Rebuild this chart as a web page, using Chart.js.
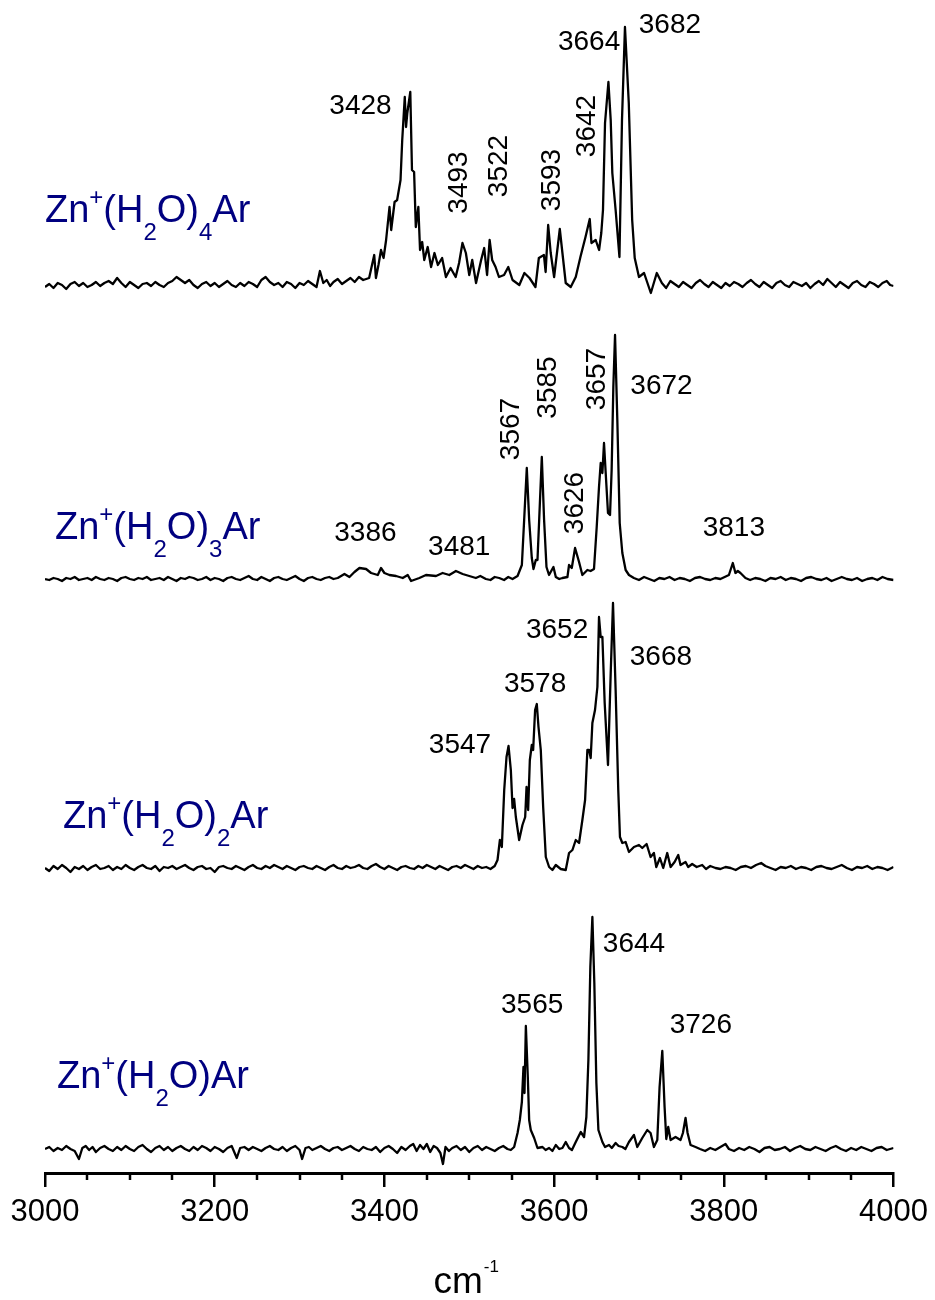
<!DOCTYPE html>
<html>
<head>
<meta charset="utf-8">
<script src="https://cdn.jsdelivr.net/npm/chart.js@4.4.1/dist/chart.umd.min.js"></script>
<style>
html,body{margin:0;padding:0;background:#fff;}
canvas{display:block;}
</style>
</head>
<body>
<canvas id="c" width="935" height="1300"></canvas>
<script>
// ---------- DATA (wavenumber cm^-1, intensity arb. units above each trace's baseline) ----------
const spectrumN4 = [
[3000,-2],[3005,1],[3010,-3],[3015,2],[3020,0],[3025,-4],[3030,1],[3035,3],[3040,-1],[3045,2],[3050,-2],[3055,0],[3060,3],[3065,-1],[3070,2],[3075,4],[3080,1],[3085,7],[3090,2],[3095,-2],[3100,3],[3105,0],[3110,-3],[3115,1],[3120,2],[3125,-1],[3130,3],[3135,0],[3140,-2],[3145,2],[3150,4],[3155,8],[3160,5],[3165,2],[3170,5],[3175,0],[3180,-3],[3185,1],[3190,3],[3195,-1],[3200,2],[3205,-2],[3210,1],[3215,4],[3220,0],[3225,-2],[3230,2],[3235,-1],[3240,3],[3245,1],[3250,-2],[3255,5],[3260,8],[3265,3],[3270,0],[3275,2],[3280,-2],[3285,3],[3290,1],[3295,-3],[3300,2],[3305,0],[3310,4],[3315,1],[3320,-2],[3324,14],[3328,2],[3332,5],[3336,-1],[3340,3],[3345,6],[3350,1],[3355,4],[3360,7],[3365,3],[3370,8],[3375,5],
[3382,7],[3388,30],[3390,7],[3393,20],[3396,35],[3399,27],[3402,45],[3406,78],[3408,55],[3412,83],[3415,85],[3419,105],[3421,145],[3424,188],[3425.5,158],[3427,172],[3430.5,193],[3432.5,115],[3435,113],[3437,58],[3440,78],[3442,35],[3444.5,43],[3447,25],[3451,38],[3455,18],[3459,32],[3463,20],[3468,27],[3472.5,8],[3478,17],[3484,8],[3488,22],[3492,42],[3496,32],[3500,10],[3503.5,25],[3508,2],[3514,25],[3517.6,37],[3521,10],[3524,45],[3527,25],[3531,18],[3535,8],[3541,10],[3546,18],[3551,5],[3559,0],[3565,12],[3571,7],[3578,-2],[3582,27],[3588,30],[3590,13],[3593,60],[3596,32],[3600,8],[3606.7,56],[3609.8,32],[3613.7,2],[3619.6,-2],[3625.5,8],[3631,28],[3637,48],[3642,66],[3644,42],[3649,45],[3653,35],[3655.6,52],[3657.6,75],[3660,162],[3664,203],[3666.7,165],[3668.6,112],[3672.5,75],[3677,28],[3680,165],[3683.5,258],[3688,182],[3692,65],[3695,27],[3700,8],[3706,12],[3714,-8],[3721,12],[3727,2],
[3732,-3],[3737,4],[3742,1],[3747,-2],[3752,3],[3757,0],[3762,-3],[3767,2],[3772,5],[3777,1],[3782,-2],[3787,3],[3792,0],[3797,-3],[3802,2],[3807,-1],[3812,3],[3817,1],[3822,-2],[3827,2],[3832,5],[3837,1],[3842,-2],[3847,3],[3852,0],[3857,-3],[3862,2],[3867,4],[3872,0],[3877,-2],[3882,3],[3887,1],[3892,-1],[3897,2],[3902,-3],[3907,1],[3912,4],[3917,0],[3922,6],[3927,2],[3932,-2],[3937,3],[3942,0],[3947,-3],[3952,2],[3957,4],[3962,0],[3967,-2],[3972,3],[3977,1],[3982,-2],[3987,2],[3992,4],[3996,0],[4000,-1]
];
const spectrumN3 = [
[3000,0],[3005,-1],[3010,1],[3015,0],[3020,-2],[3025,1],[3030,0],[3035,2],[3040,-1],[3045,0],[3050,1],[3055,-1],[3060,2],[3065,0],[3070,-1],[3075,1],[3080,0],[3085,-2],[3090,1],[3095,2],[3100,0],[3105,-1],[3110,1],[3115,0],[3120,2],[3125,-1],[3130,0],[3135,1],[3140,-1],[3145,2],[3150,0],[3155,-2],[3160,1],[3165,0],[3170,2],[3175,1],[3180,-1],[3185,0],[3190,2],[3195,-1],[3200,1],[3205,0],[3210,-2],[3215,1],[3220,2],[3225,0],[3230,-1],[3235,1],[3240,3],[3245,0],[3250,-1],[3255,2],[3260,0],[3265,-2],[3270,1],[3275,2],[3280,0],[3285,-1],[3290,1],[3295,3],[3300,0],[3305,-2],[3310,1],[3315,2],[3320,0],[3325,-1],[3330,1],[3335,2],[3340,0],[3345,1],
[3352.9,5],[3358.8,2],[3364.7,7],[3370.6,11],[3378.4,10],[3384.3,6],[3392.2,4],[3396,11],[3400,6],[3405.9,4],[3413.7,3],[3421.6,1],[3427.5,4],[3431.4,-2],[3441.2,1],[3449,4],[3460.8,3],[3468.6,6],[3476.5,4],[3484.3,8],[3492.2,5],[3500,3],[3507.8,1],[3513,3],[3519.6,0],[3525,-1],[3530,2],[3535.3,1],[3541,-1],[3546,2],[3551,0],[3556.9,3],[3562,14],[3564.7,59],[3567.8,111],[3570.6,59],[3573.7,21],[3575.7,10],[3578.4,19],[3580.4,19],[3582.4,59],[3585.5,122],[3588.2,59],[3591,12],[3594,4],[3599.2,12],[3602,2],[3606,0],[3609.8,1],[3615.7,2],[3617.6,14],[3620.8,11],[3624.7,31],[3629.4,17],[3633.3,4],[3639.2,9],[3643,8],[3647,10],[3650.2,52],[3652.9,92],[3654.9,116],[3656.9,106],[3658.8,136],[3660.8,106],[3663.5,66],[3665.9,64],[3667.8,109],[3669.8,192],[3671.8,244],[3674.5,159],[3677.3,56],[3680.4,26],[3684.3,9],[3688.2,4],
[3694,1],[3700,-1],[3706,2],[3712,0],[3718,-2],[3724,1],[3730,0],[3736,2],[3742,-1],[3748,1],[3754,0],[3760,-2],[3766,1],[3772,2],[3778,0],[3784,-1],[3790,1],[3796,0],[3801,2],[3806,4],[3810.6,16],[3813.7,6],[3816.5,8],[3819.6,6],[3825.5,1],[3831,-1],[3837,1],[3843,0],[3849,-2],[3855,1],[3861,0],[3867,2],[3873,-1],[3879,1],[3885,0],[3891,-2],[3897,1],[3903,2],[3909,0],[3915,-1],[3921,1],[3927,-2],[3933,0],[3939,2],[3945,0],[3951,-1],[3957,1],[3963,-2],[3969,0],[3975,1],[3981,-1],[3987,2],[3993,0],[4000,-1]
];
const spectrumN2 = [
[3000,0],[3005,-3],[3010,2],[3015,-1],[3020,3],[3025,0],[3030,-4],[3035,1],[3040,-1],[3045,2],[3050,-2],[3055,1],[3060,3],[3065,-1],[3070,0],[3075,2],[3080,-2],[3085,1],[3090,-1],[3095,3],[3100,0],[3105,-2],[3110,1],[3115,3],[3120,0],[3125,-1],[3130,2],[3135,-3],[3140,1],[3145,0],[3150,2],[3155,-1],[3160,1],[3165,3],[3170,0],[3175,-2],[3180,1],[3185,2],[3190,-1],[3195,0],[3200,-4],[3205,1],[3210,2],[3215,0],[3220,-1],[3225,2],[3230,0],[3235,-2],[3240,1],[3245,3],[3250,0],[3255,-1],[3260,2],[3265,0],[3270,3],[3275,1],[3280,-1],[3285,2],[3290,0],[3295,-2],[3300,1],[3305,2],[3310,0],[3315,-1],[3320,2],[3325,0],[3330,-2],[3335,1],[3340,3],[3345,0],[3350,-1],[3355,2],[3360,0],[3365,1],[3370,3],[3375,0],[3380,-1],[3385,2],[3390,4],[3395,1],[3400,-1],[3405,2],[3410,0],[3415,-2],[3420,1],[3425,2],[3430,0],[3435,-1],[3440,2],[3445,0],[3450,3],[3455,1],[3460,-1],[3465,2],[3470,0],[3475,-2],[3480,1],[3485,2],[3490,0],[3495,3],[3500,1],[3505,-1],[3510,2],[3515,0],[3520,1],[3525,-1],[3530,2],
[3533.3,8],[3536.1,28],[3538.4,21],[3541.2,78],[3543.9,111],[3546.3,122],[3549,98],[3551,60],[3552.9,69],[3554.9,51],[3558.8,28],[3562.7,43],[3565.9,51],[3567.5,81],[3569.4,58],[3571.4,108],[3573.7,123],[3575.3,118],[3577.6,158],[3579.6,164],[3581.6,141],[3584.3,118],[3587.1,61],[3590.2,11],[3594.1,1],[3598,-2],[3602,3],[3607.8,-1],[3613.7,-2],[3617.6,15],[3621.6,18],[3625.5,28],[3629.4,25],[3633.3,48],[3636.5,68],[3639.2,118],[3641.2,118],[3643.1,110],[3645.1,145],[3648.2,158],[3651,181],[3652.9,251],[3654.9,231],[3656.9,231],[3659.6,165],[3663.5,103],[3666.7,195],[3669.4,265],[3672.5,178],[3675.6,78],[3677.6,31],[3680.4,25],[3684.3,26],[3688.2,16],[3694.1,21],[3700,23],[3703.9,20],[3709,24],[3713.7,11],[3717.6,15],[3720.4,1],[3724.7,10],[3728.6,0],[3733.3,15],[3737.3,1],[3742,6],[3746.3,13],[3749,3],[3754.9,6],[3758,1],[3762.7,4],[3768,1],[3774.5,3],[3779,-1],[3784,2],[3790.2,0],
[3796,-1],[3802,1],[3808,0],[3814,-2],[3820,1],[3826,2],[3832,0],[3838,3],[3844,5],[3849,2],[3855,0],[3861,-2],[3867,1],[3873,0],[3879,2],[3885,-1],[3891,1],[3897,0],[3903,-2],[3909,1],[3915,2],[3921,0],[3927,-1],[3933,1],[3939,3],[3945,0],[3951,-2],[3957,1],[3963,0],[3969,2],[3975,-1],[3981,1],[3987,0],[3993,-2],[4000,1]
];
const spectrumN1 = [
[3000,0],[3005,2],[3010,-2],[3015,1],[3020,-1],[3025,3],[3030,0],[3035,-2],[3040,-10],[3044,1],[3048,3],[3052,-1],[3056,2],[3060,-3],[3065,1],[3070,3],[3075,0],[3080,-2],[3085,2],[3090,-1],[3095,3],[3100,0],[3105,-2],[3110,2],[3115,4],[3120,0],[3125,-3],[3130,1],[3135,3],[3140,-1],[3145,2],[3150,-2],[3155,1],[3160,3],[3165,0],[3170,-2],[3175,2],[3180,-1],[3185,3],[3190,1],[3195,-2],[3200,2],[3205,0],[3210,-3],[3215,1],[3220,3],[3226,-9],[3230,1],[3235,2],[3240,-1],[3245,2],[3250,0],[3255,-2],[3260,1],[3265,3],[3270,0],[3275,-1],[3280,2],[3285,-2],[3290,1],[3295,3],[3300,-1],[3303,-10],[3307,1],[3311,2],[3315,-1],[3320,1],[3325,3],[3330,0],[3335,-2],[3340,1],[3345,2],[3350,-1],[3355,1],[3360,3],[3365,0],[3370,-2],[3375,2],[3380,0],[3385,-1],[3390,2],[3395,-3],[3400,1],[3405,3],[3410,0],[3415,-4],[3420,2],[3425,-1],[3430,3],[3434,5],[3438,-2],[3442,4],[3446,0],[3450,5],[3454,-3],[3458,3],[3462,1],[3466,-4],[3469,-15],[3472,2],[3476,-2],[3480,1],[3485,3],[3490,-1],[3495,2],[3500,-3],[3505,1],[3510,3],[3515,-1],[3520,2],[3525,0],[3530,-2],[3535,1],[3540,3],[3545,0],[3549,-1],
[3552.9,2],[3556.9,16],[3559.6,29],[3562,47],[3563.9,82],[3565.1,56],[3566.7,123],[3569,72],[3570.6,29],[3572.5,19],[3576.5,11],[3580.4,1],[3586.3,2],[3590,-1],[3594.1,1],[3598,-2],[3602,4],[3606,0],[3609.8,1],[3613.7,7],[3617.6,1],[3621,-1],[3625.5,7],[3631.4,17],[3635.3,12],[3638,32],[3640.4,89],[3642.7,182],[3645.1,232],[3647.4,166],[3649.8,66],[3652.2,19],[3656.9,7],[3660,2],[3664.7,4],[3668,1],[3672.5,6],[3676,3],[3680.4,2],[3684,0],[3688.2,7],[3694.1,14],[3698,2],[3703.9,11],[3709.8,19],[3713.7,16],[3717.6,2],[3721.6,9],[3724.3,62],[3727.5,98],[3730.2,42],[3732.2,10],[3734.5,22],[3737.3,9],[3743.1,12],[3749,9],[3751.8,16],[3754.9,31],[3757.3,16],[3760.8,4],[3766.7,2],
[3772,0],[3778,-2],[3784,1],[3790,-1],[3796,2],[3802,5],[3806,0],[3812,-2],[3818,1],[3824,-1],[3830,2],[3836,0],[3842,-3],[3848,1],[3854,2],[3860,-1],[3866,0],[3872,2],[3878,-2],[3884,1],[3890,3],[3896,0],[3902,-1],[3908,2],[3914,0],[3920,-2],[3926,1],[3932,3],[3938,0],[3944,-2],[3950,1],[3956,-1],[3962,2],[3968,0],[3974,-2],[3980,1],[3986,2],[3992,-1],[4000,1]
];
// peak labels (text of each trace)
const peakLabels4 = ['3428','3493','3522','3593','3642','3664','3682'];
const peakLabels3 = ['3386','3481','3567','3585','3626','3657','3672','3813'];
const peakLabels2 = ['3547','3578','3652','3668'];
const peakLabels1 = ['3565','3644','3726'];
// species names: [text, 'n'|'sup'|'sub']
const species4 = [['Zn','n'],['+','sup'],['(H','n'],['2','sub'],['O)','n'],['4','sub'],['Ar','n']];
const species3 = [['Zn','n'],['+','sup'],['(H','n'],['2','sub'],['O)','n'],['3','sub'],['Ar','n']];
const species2 = [['Zn','n'],['+','sup'],['(H','n'],['2','sub'],['O)','n'],['2','sub'],['Ar','n']];
const species1 = [['Zn','n'],['+','sup'],['(H','n'],['2','sub'],['O)Ar','n']];
const xTickStep = 200, xMinorStep = 50, xMin = 3000, xMax = 4000;

// ---------- LAYOUT / STYLE ----------
const FONT = '"Liberation Sans", Arial, Helvetica, sans-serif';
const traces = [
  {points: spectrumN4, offset: 888, labels: peakLabels4, species: species4,
   labelPos: [[3371.8,181,0],[3485.3,102.5,-90],[3532.4,119,-90],[3595.3,105,-90],[3636.5,159,-90],[3641.2,245,0],[3736.5,262,0]],
   speciesPos: [3000, 63.3]},
  {points: spectrumN3, offset: 594, labels: peakLabels3, species: species3,
   labelPos: [[3377.6,48,0],[3488.2,34,0],[3546.5,150,-90],[3590.6,191.5,-90],[3622.4,76,-90],[3648.2,200,-90],[3726.5,195,0],[3811.8,53,0]],
   speciesPos: [3011.8, 40]},
  {points: spectrumN2, offset: 305, labels: peakLabels2, species: species2,
   labelPos: [[3489.1,125,0],[3577.6,186,0],[3603.5,240,0],[3725.9,213,0]],
   speciesPos: [3021.2, 40]},
  {points: spectrumN1, offset: 24, labels: peakLabels1, species: species1,
   labelPos: [[3574.1,146,0],[3694.1,207,0],[3772.9,126,0]],
   speciesPos: [3014.1, 61]}
];

const annotPlugin = {
  id: 'annot',
  afterDatasetsDraw(chart) {
    const ctx = chart.ctx, xs = chart.scales.x, ys = chart.scales.y;
    ctx.save();
    ctx.fillStyle = '#000';
    ctx.font = '28px ' + FONT;
    ctx.textAlign = 'center';
    ctx.textBaseline = 'alphabetic';
    traces.forEach(t => {
      t.labels.forEach((txt, i) => {
        const [wn, h, rot] = t.labelPos[i];
        const px = xs.getPixelForValue(wn), py = ys.getPixelForValue(t.offset + h);
        ctx.save();
        ctx.translate(px, py);
        ctx.rotate(rot * Math.PI / 180);
        ctx.fillText(txt, 0, 10);
        ctx.restore();
      });
    });
    ctx.fillStyle = '#000080';
    ctx.textAlign = 'left';
    traces.forEach(t => {
      let x = xs.getPixelForValue(t.speciesPos[0]);
      const base = ys.getPixelForValue(t.offset + t.speciesPos[1]);
      t.species.forEach(([txt, kind]) => {
        let size = 38, dy = 0;
        if (kind === 'sup') { size = 24; dy = -17; }
        if (kind === 'sub') { size = 24; dy = 18; }
        ctx.font = size + 'px ' + FONT;
        ctx.fillText(txt, x, base + dy);
        x += ctx.measureText(txt).width;
      });
    });
    ctx.restore();
  },
  afterDraw(chart) {
    const ctx = chart.ctx, xs = chart.scales.x;
    ctx.save();
    ctx.strokeStyle = '#000';
    ctx.lineWidth = 2.5;
    for (let v = xMin; v <= xMax; v += xMinorStep) {
      if (v % xTickStep === 0) continue;
      const px = Math.round(xs.getPixelForValue(v));
      ctx.beginPath();
      ctx.moveTo(px, xs.top);
      ctx.lineTo(px, xs.top + 7);
      ctx.stroke();
    }
    ctx.fillStyle = '#000';
    ctx.textBaseline = 'alphabetic';
    ctx.textAlign = 'left';
    ctx.font = '37px ' + FONT;
    const w1 = ctx.measureText('cm').width;
    ctx.font = '17px ' + FONT;
    const w2 = ctx.measureText('-1').width;
    const cx = (xs.left + xs.right) / 2 - 3;
    const x0 = cx - (w1 + w2 + 1) / 2;
    const base = xs.bottom - 7;
    ctx.font = '37px ' + FONT;
    ctx.fillText('cm', x0, base);
    ctx.font = '17px ' + FONT;
    ctx.fillText('-1', x0 + w1 + 1, base - 21);
    ctx.restore();
  }
};

new Chart(document.getElementById('c'), {
  type: 'scatter',
  data: {
    datasets: traces.map(t => ({
      data: t.points.map(([x, v]) => ({x: x, y: v + t.offset})),
      showLine: true, borderColor: '#000', borderWidth: 2.3, pointRadius: 0,
      tension: 0, fill: false, borderJoinStyle: 'round'
    }))
  },
  options: {
    responsive: false, animation: false, events: [],
    plugins: {legend: {display: false}, tooltip: {enabled: false}},
    layout: {padding: {left: 45, right: 40, top: 0, bottom: 0}},
    scales: {
      x: {
        type: 'linear', min: xMin, max: xMax, position: 'bottom',
        border: {display: true, color: '#000', width: 3},
        grid: {display: true, drawOnChartArea: false, drawTicks: true, tickLength: 14, lineWidth: 2.5,
               color: c => (c.tick && c.tick.value % xTickStep === 0) ? '#000' : 'rgba(0,0,0,0)'},
        ticks: {stepSize: xMinorStep, autoSkip: false, maxRotation: 0, minRotation: 0, padding: 7,
                color: '#000', font: {family: FONT, size: 31},
                callback: v => (v % xTickStep === 0 ? String(v) : '')},
        afterFit: s => { s.height = 127; }
      },
      y: {type: 'linear', display: false, min: 0, max: 1173}
    }
  },
  plugins: [annotPlugin]
});
</script>
</body>
</html>
